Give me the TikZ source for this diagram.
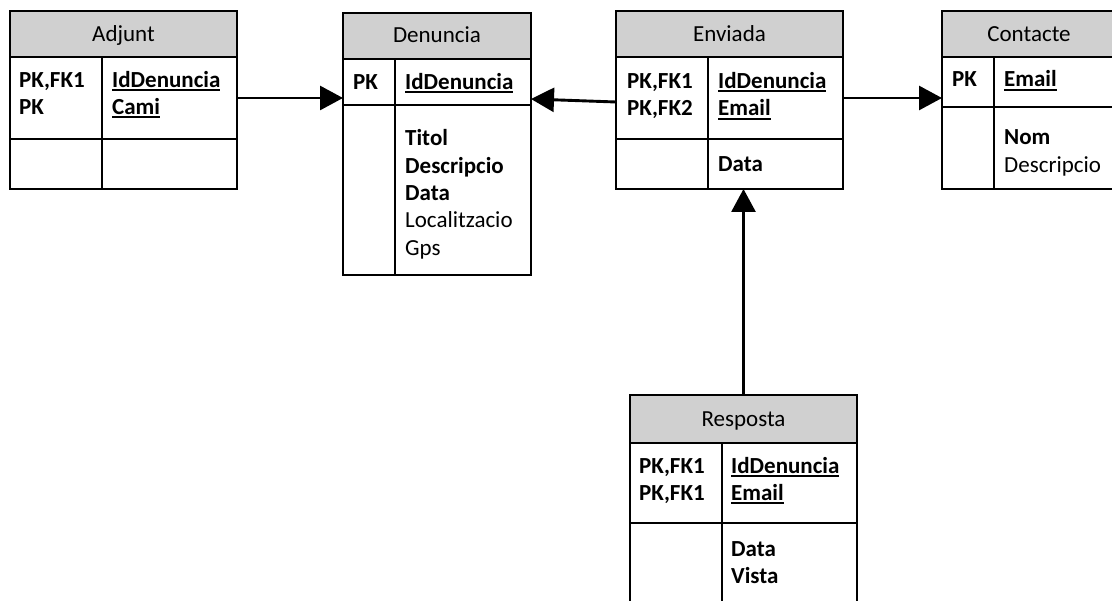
\documentclass[tikz,border=0pt]{standalone}
\usepackage{fontspec}
\setmainfont{Carlito}
\usetikzlibrary{arrows.meta}

\definecolor{hdrgray}{RGB}{208,208,208}

% text set in the table cells
\newcommand\tabfont{\fontsize{23}{27.4}\selectfont}
% underlined key attribute
\newcommand\keyname[1]{\setbox0\hbox{#1}\rlap{\rule[-3.8pt]{\wd0}{1.9pt}}\box0}
% a column of lines whose baseline is that of its first line
\newcommand\lines[1]{\vtop{\baselineskip=27.3pt\halign{##\hfil\cr #1\crcr}}}

\tikzset{
  tbl/.style={draw, line width=2pt, inner sep=0pt, outer sep=0pt, anchor=north west},
  hdr/.style={tbl, fill=hdrgray},
  txt/.style={anchor=base west, inner sep=0pt, font=\tabfont},
  htxt/.style={anchor=base, inner sep=0pt, font=\tabfont},
  divider/.style={line width=2pt},
  rel/.style={line width=2.9pt, -{Triangle[length=23pt,width=24pt]}},
}

\begin{document}
\begin{tikzpicture}[x=1pt, y=-1pt]
\useasboundingbox (0,0) rectangle (1112,601);
\clip (0,0) rectangle (1112,601);

% ---------- Adjunt ----------
\node[hdr, minimum width=227pt, minimum height=46pt] (adjH) at (10,11) {};
\node[tbl, minimum width=227pt, minimum height=82pt] (adjK) at (10,57) {};
\node[tbl, minimum width=227pt, minimum height=50pt] (adjA) at (10,139) {};
\draw[divider] ([xshift=92pt]adjK.north west) -- ([xshift=92pt]adjA.south west);
\node[htxt] (adjT) at (123.5,42) {Adjunt};
\node[txt] (adjPK) at (19,87.3) {\bfseries\lines{PK,FK1\cr PK}};
\node[txt] (adjKN) at (112,87.3) {\bfseries\lines{\keyname{IdDenuncia}\cr \keyname{Cami}}};

% ---------- Denuncia ----------
\node[hdr, minimum width=188pt, minimum height=46pt] (denH) at (343,13) {};
\node[tbl, minimum width=188pt, minimum height=46pt] (denK) at (343,59) {};
\node[tbl, minimum width=188pt, minimum height=170pt] (denA) at (343,105) {};
\draw[divider] ([xshift=52pt]denK.north west) -- ([xshift=52pt]denA.south west);
\node[htxt] (denT) at (437,43) {Denuncia};
\node[txt] (denPK) at (353,89.5) {\bfseries PK};
\node[txt] (denKN) at (405,89.5) {\bfseries\keyname{IdDenuncia}};
\node[txt] (denAT) at (405,146) {\lines{\textbf{Titol}\cr \textbf{Descripcio}\cr \textbf{Data}\cr Localitzacio\cr Gps}};

% ---------- Enviada ----------
\node[hdr, minimum width=227pt, minimum height=46pt] (envH) at (616,11) {};
\node[tbl, minimum width=227pt, minimum height=82pt] (envK) at (616,57) {};
\node[tbl, minimum width=227pt, minimum height=50pt] (envA) at (616,139) {};
\draw[divider] ([xshift=92pt]envK.north west) -- ([xshift=92pt]envA.south west);
\node[htxt] (envT) at (729.5,42) {Enviada};
\node[txt] (envPK) at (627,88.5) {\bfseries\lines{PK,FK1\cr PK,FK2}};
\node[txt] (envKN) at (718,88.5) {\bfseries\lines{\keyname{IdDenuncia}\cr \keyname{Email}}};
\node[txt] (envAT) at (718,171.7) {\bfseries Data};

% ---------- Contacte ----------
\node[hdr, minimum width=174pt, minimum height=46pt] (conH) at (942,11) {};
\node[tbl, minimum width=174pt, minimum height=50pt] (conK) at (942,57) {};
\node[tbl, minimum width=174pt, minimum height=82pt] (conA) at (942,107) {};
\draw[divider] ([xshift=52pt]conK.north west) -- ([xshift=52pt]conA.south west);
\node[htxt] (conT) at (1029,41.7) {Contacte};
\node[txt] (conPK) at (952,87) {\bfseries PK};
\node[txt] (conKN) at (1004,87) {\bfseries\keyname{Email}};
\node[txt] (conAT) at (1004,145) {\lines{\textbf{Nom}\cr Descripcio}};

% ---------- Resposta ----------
\node[hdr, minimum width=227pt, minimum height=48pt] (resH) at (630,395) {};
\node[tbl, minimum width=227pt, minimum height=80pt] (resK) at (630,443) {};
\node[tbl, minimum width=227pt, minimum height=100pt] (resA) at (630,523) {};
\draw[divider] ([xshift=92pt]resK.north west) -- ([xshift=92pt]resA.south west);
\node[htxt] (resT) at (743.5,427) {Resposta};
\node[txt] (resPK) at (639,473.3) {\bfseries\lines{PK,FK1\cr PK,FK1}};
\node[txt] (resKN) at (731,473.3) {\bfseries\lines{\keyname{IdDenuncia}\cr \keyname{Email}}};
\node[txt] (resAT) at (731,556.7) {\bfseries\lines{Data\cr Vista}};

% ---------- relationships ----------
\draw[rel] (adjK.east) -- (adjK.east -| denK.west);
\draw[rel] ([yshift=-4pt]envK.west) -- ([yshift=-1pt]envK.west -| denK.east);
\draw[rel] (envK.east) -- (envK.east -| conK.west);
\draw[rel] (resH.north) -- (resH.north |- envA.south);
\end{tikzpicture}
\end{document}
